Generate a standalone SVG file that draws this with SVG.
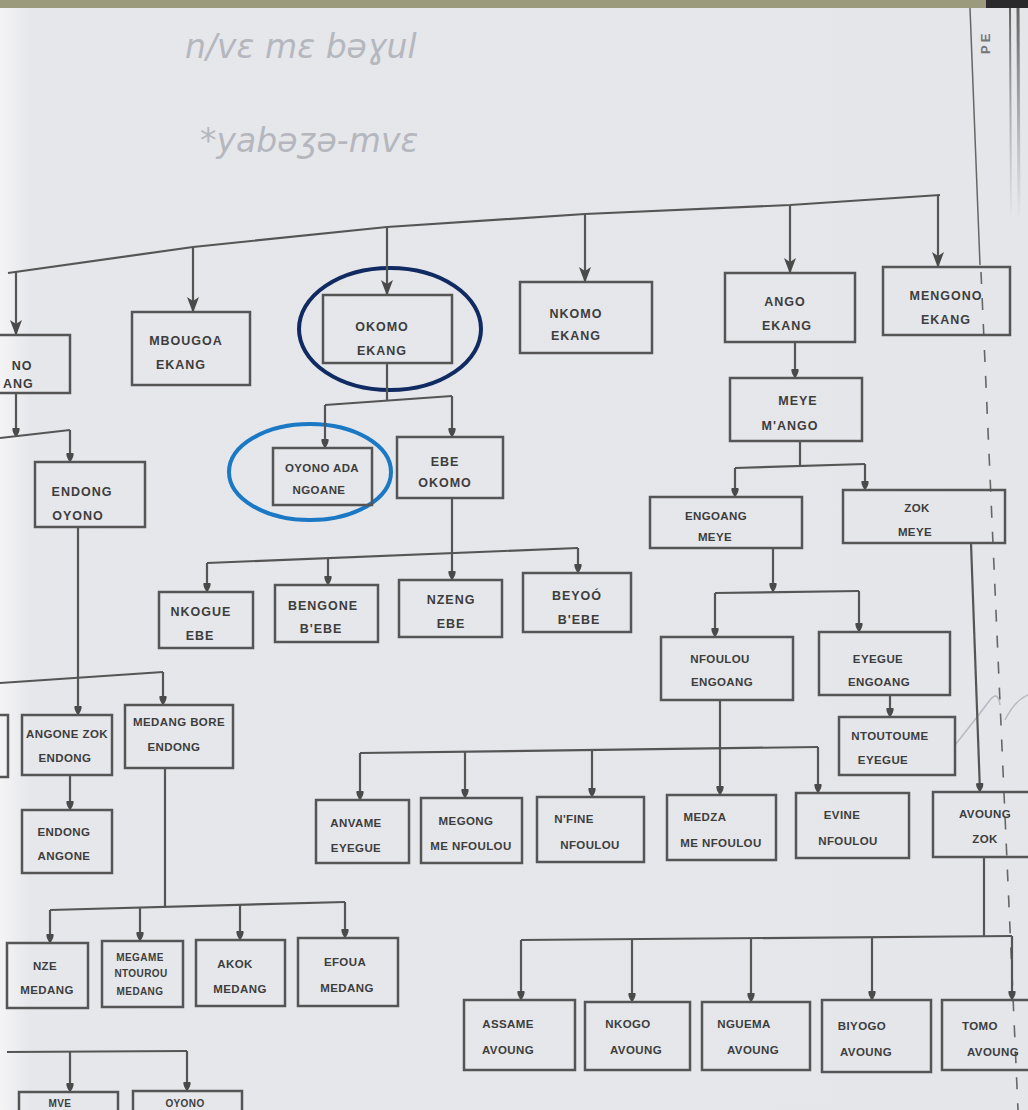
<svg xmlns="http://www.w3.org/2000/svg" width="1028" height="1110" viewBox="0 0 1028 1110">
<defs>
<linearGradient id="paper" x1="0" y1="0" x2="1" y2="0">
<stop offset="0" stop-color="#f4f4f5"/>
<stop offset="0.03" stop-color="#e6e7eb"/>
<stop offset="1" stop-color="#e4e6ea"/>
</linearGradient>
<linearGradient id="spine" x1="0" y1="0" x2="0" y2="1">
<stop offset="0" stop-color="#555" stop-opacity="0.9"/>
<stop offset="1" stop-color="#777" stop-opacity="0"/>
</linearGradient>
<marker id="tri" viewBox="0 0 16 12" refX="16" refY="6" markerWidth="16" markerHeight="12" markerUnits="userSpaceOnUse" orient="auto">
<path d="M0,0 L4,6 L0,12 L16,6 z" fill="#4a4a4a"/>
</marker>
<marker id="dot" viewBox="0 0 8 8" refX="8" refY="4" markerWidth="9" markerHeight="9" markerUnits="userSpaceOnUse" orient="auto">
<path d="M0,1 Q3,0 8,4 Q3,8 0,7 z" fill="#4a4a4a"/>
</marker>
<style>
.box{fill:none;stroke:#555;stroke-width:2.5}
.t{font-family:"Liberation Sans",Arial,sans-serif;font-weight:bold;font-size:12.5px;letter-spacing:1px;fill:#3d3d3d;text-anchor:middle}
.s{font-size:11.5px;letter-spacing:0.4px}
.c{fill:none;stroke:#555;stroke-width:2.2}
.a{marker-end:url(#tri)}
.d{marker-end:url(#dot)}
.hand{font-family:"DejaVu Sans",sans-serif;font-style:italic;font-size:33px;fill:#a2a4ac;opacity:0.7}
</style>
</defs>
<rect width="1028" height="1110" fill="url(#paper)"/>
<rect x="0" y="0" width="986" height="8" fill="#9c9a7c"/>
<rect x="986" y="0" width="42" height="8" fill="#2a2a2c"/>
<line x1="1010" y1="8" x2="1011" y2="220" stroke="url(#spine)" stroke-width="2"/>
<line x1="1018" y1="8" x2="1019" y2="220" stroke="url(#spine)" stroke-width="3"/>
<text x="990" y="54" transform="rotate(-90 990 54)" style="font-family:'Liberation Sans',sans-serif;font-weight:bold;font-size:13px;fill:#777;letter-spacing:3px">PE</text>
<text x="185" y="58" class="hand">n/vɛ mɛ bəɣul</text>
<text x="200" y="152" class="hand">*yabəʒə-mvɛ</text>
<line x1="970" y1="8" x2="980" y2="265" stroke="#666" stroke-width="1.5"/>
<line x1="981" y1="272" x2="1018" y2="1110" stroke="#666" stroke-width="1.6" stroke-dasharray="12 14"/>
<path d="M955,745 Q975,720 990,700 Q998,690 1000,705 M1005,720 Q1015,700 1028,695" fill="none" stroke="#a4a6ad" stroke-width="1.5" opacity="0.7"/>
<ellipse cx="390" cy="329" rx="91" ry="61" fill="none" stroke="#102a62" stroke-width="4"/>
<ellipse cx="310" cy="472" rx="81" ry="48" fill="none" stroke="#1a78c4" stroke-width="4"/>
<g id="connectors">
<path class="c" d="M8,273 L193,247 L387,227 L585,214 L790,205 L940,195"/>
<line class="c a" x1="16" y1="272" x2="16" y2="336"/>
<line class="c a" x1="193" y1="247" x2="193" y2="313"/>
<line class="c a" x1="387" y1="227" x2="387" y2="296"/>
<line class="c a" x1="585" y1="214" x2="585" y2="283"/>
<line class="c a" x1="790" y1="205" x2="790" y2="274"/>
<line class="c a" x1="938" y1="196" x2="938" y2="268"/>
<line class="c" x1="387" y1="363" x2="387" y2="401"/>
<line class="c" x1="325" y1="405" x2="452" y2="396"/>
<line class="c d" x1="325" y1="405" x2="325" y2="448"/>
<line class="c d" x1="452" y1="396" x2="452" y2="437"/>
<line class="c" x1="452" y1="498" x2="452" y2="553"/>
<line class="c" x1="207" y1="563" x2="578" y2="548"/>
<line class="c d" x1="207" y1="563" x2="207" y2="592"/>
<line class="c d" x1="328" y1="558" x2="328" y2="585"/>
<line class="c d" x1="452" y1="553" x2="452" y2="580"/>
<line class="c d" x1="578" y1="548" x2="578" y2="573"/>
<line class="c d" x1="16" y1="393" x2="16" y2="437"/>
<line class="c" x1="0" y1="438" x2="70" y2="430"/>
<line class="c d" x1="70" y1="430" x2="70" y2="462"/>
<line class="c d" x1="78" y1="527" x2="78" y2="715"/>
<line class="c" x1="0" y1="683" x2="163" y2="672"/>
<line class="c d" x1="163" y1="672" x2="163" y2="705"/>
<line class="c d" x1="70" y1="775" x2="70" y2="810"/>
<line class="c" x1="165" y1="768" x2="165" y2="906"/>
<line class="c" x1="50" y1="910" x2="345" y2="902"/>
<line class="c d" x1="50" y1="910" x2="50" y2="943"/>
<line class="c d" x1="140" y1="908" x2="140" y2="941"/>
<line class="c d" x1="240" y1="905" x2="240" y2="940"/>
<line class="c d" x1="345" y1="902" x2="345" y2="938"/>
<line class="c" x1="7" y1="1052" x2="187" y2="1051"/>
<line class="c d" x1="70" y1="1052" x2="70" y2="1092"/>
<line class="c d" x1="187" y1="1051" x2="187" y2="1091"/>
<line class="c d" x1="795" y1="342" x2="795" y2="378"/>
<line class="c" x1="800" y1="441" x2="800" y2="466"/>
<line class="c" x1="735" y1="468" x2="865" y2="464"/>
<line class="c d" x1="735" y1="468" x2="735" y2="497"/>
<line class="c d" x1="865" y1="464" x2="865" y2="490"/>
<line class="c d" x1="773" y1="548" x2="773" y2="592"/>
<line class="c" x1="715" y1="593" x2="859" y2="591"/>
<line class="c d" x1="715" y1="593" x2="715" y2="637"/>
<line class="c d" x1="859" y1="591" x2="859" y2="632"/>
<line class="c d" x1="890" y1="695" x2="890" y2="717"/>
<line class="c d" x1="720" y1="700" x2="720" y2="795"/>
<line class="c" x1="360" y1="753" x2="818" y2="747"/>
<line class="c d" x1="360" y1="753" x2="360" y2="800"/>
<line class="c d" x1="465" y1="752" x2="465" y2="798"/>
<line class="c d" x1="592" y1="750" x2="592" y2="797"/>
<line class="c d" x1="818" y1="747" x2="818" y2="793"/>
<line class="c d" x1="971" y1="543" x2="980" y2="792"/>
<line class="c" x1="984" y1="857" x2="984" y2="937"/>
<line class="c" x1="521" y1="940" x2="1012" y2="936"/>
<line class="c d" x1="521" y1="940" x2="521" y2="1000"/>
<line class="c d" x1="632" y1="939" x2="632" y2="1002"/>
<line class="c d" x1="751" y1="938" x2="751" y2="1002"/>
<line class="c d" x1="872" y1="938" x2="872" y2="1000"/>
<line class="c d" x1="1012" y1="936" x2="1012" y2="1000"/>
</g>
<g id="n-noang"><rect class="box" x="-5" y="335" width="75" height="58"/><text class="t" x="22" y="370">NO</text><text class="t" x="3" y="388" style="text-anchor:start">ANG</text></g>
<g id="n-mbougoa"><rect class="box" x="132" y="312" width="118" height="73"/><text class="t" x="186" y="345">MBOUGOA</text><text class="t" x="181" y="369">EKANG</text></g>
<g id="n-okomo"><rect class="box" x="323" y="295" width="129" height="68"/><text class="t" x="382" y="331">OKOMO</text><text class="t" x="382" y="355">EKANG</text></g>
<g id="n-nkomo"><rect class="box" x="520" y="282" width="132" height="71"/><text class="t" x="576" y="318">NKOMO</text><text class="t" x="576" y="340">EKANG</text></g>
<g id="n-ango"><rect class="box" x="725" y="273" width="130" height="69"/><text class="t" x="785" y="306">ANGO</text><text class="t" x="787" y="330">EKANG</text></g>
<g id="n-mengono"><rect class="box" x="883" y="267" width="127" height="68"/><text class="t" x="946" y="300">MENGONO</text><text class="t" x="946" y="324">EKANG</text></g>
<g id="n-oyono"><rect class="box" x="273" y="448" width="99" height="57"/><text class="t s" x="322" y="472">OYONO ADA</text><text class="t s" x="319" y="494">NGOANE</text></g>
<g id="n-ebe"><rect class="box" x="397" y="437" width="106" height="61"/><text class="t" x="445" y="466">EBE</text><text class="t" x="445" y="487">OKOMO</text></g>
<g id="n-endong-oyono"><rect class="box" x="35" y="462" width="110" height="65"/><text class="t" x="82" y="496">ENDONG</text><text class="t" x="78" y="520">OYONO</text></g>
<g id="n-nkogue"><rect class="box" x="159" y="592" width="94" height="56"/><text class="t" x="201" y="616">NKOGUE</text><text class="t" x="200" y="640">EBE</text></g>
<g id="n-bengone"><rect class="box" x="275" y="585" width="103" height="57"/><text class="t" x="323" y="610">BENGONE</text><text class="t" x="321" y="633">B'EBE</text></g>
<g id="n-nzeng"><rect class="box" x="399" y="580" width="103" height="57"/><text class="t" x="451" y="604">NZENG</text><text class="t" x="451" y="628">EBE</text></g>
<g id="n-beyoo"><rect class="box" x="523" y="573" width="108" height="59"/><text class="t" x="577" y="600">BEYOÓ</text><text class="t" x="579" y="624">B'EBE</text></g>
<g id="n-meye"><rect class="box" x="730" y="378" width="132" height="63"/><text class="t" x="798" y="405">MEYE</text><text class="t" x="790" y="430">M'ANGO</text></g>
<g id="n-engoang-meye"><rect class="box" x="650" y="497" width="152" height="51"/><text class="t s" x="716" y="520">ENGOANG</text><text class="t s" x="715" y="541">MEYE</text></g>
<g id="n-zok-meye"><rect class="box" x="843" y="490" width="162" height="53"/><text class="t s" x="917" y="512">ZOK</text><text class="t s" x="915" y="536">MEYE</text></g>
<g id="n-nfoulou"><rect class="box" x="661" y="637" width="132" height="63"/><text class="t s" x="720" y="663">NFOULOU</text><text class="t s" x="722" y="686">ENGOANG</text></g>
<g id="n-eyegue"><rect class="box" x="819" y="632" width="131" height="63"/><text class="t s" x="878" y="663">EYEGUE</text><text class="t s" x="879" y="686">ENGOANG</text></g>
<g id="n-ntoutoume"><rect class="box" x="839" y="717" width="116" height="58"/><text class="t s" x="890" y="740">NTOUTOUME</text><text class="t s" x="883" y="764">EYEGUE</text></g>
<g id="n-angone"><rect class="box" x="22" y="715" width="90" height="60"/><text class="t s" x="67" y="738">ANGONE ZOK</text><text class="t s" x="65" y="762">ENDONG</text></g>
<g id="n-left-partial"><path class="box" d="M-4,715 L8,715 L8,777 L-4,777"/></g>
<g id="n-medang-bore"><rect class="box" x="125" y="705" width="108" height="63"/><text class="t s" x="179" y="726">MEDANG BORE</text><text class="t s" x="174" y="751">ENDONG</text></g>
<g id="n-endong-angone"><rect class="box" x="22" y="810" width="90" height="63"/><text class="t s" x="64" y="836">ENDONG</text><text class="t s" x="64" y="860">ANGONE</text></g>
<g id="n-anvame"><rect class="box" x="316" y="800" width="93" height="63"/><text class="t s" x="356" y="827">ANVAME</text><text class="t s" x="356" y="852">EYEGUE</text></g>
<g id="n-megong"><rect class="box" x="421" y="798" width="101" height="65"/><text class="t s" x="466" y="825">MEGONG</text><text class="t s" x="471" y="850">ME NFOULOU</text></g>
<g id="n-nfine"><rect class="box" x="537" y="797" width="107" height="65"/><text class="t s" x="574" y="823">N'FINE</text><text class="t s" x="590" y="849">NFOULOU</text></g>
<g id="n-medza"><rect class="box" x="667" y="795" width="109" height="65"/><text class="t s" x="705" y="821">MEDZA</text><text class="t s" x="721" y="847">ME NFOULOU</text></g>
<g id="n-evine"><rect class="box" x="796" y="793" width="113" height="65"/><text class="t s" x="842" y="819">EVINE</text><text class="t s" x="848" y="845">NFOULOU</text></g>
<g id="n-avoung"><rect class="box" x="933" y="792" width="100" height="65"/><text class="t s" x="985" y="818">AVOUNG</text><text class="t s" x="985" y="843">ZOK</text></g>
<g id="n-nze"><rect class="box" x="7" y="943" width="81" height="65"/><text class="t s" x="45" y="970">NZE</text><text class="t s" x="47" y="994">MEDANG</text></g>
<g id="n-megame"><rect class="box" x="102" y="941" width="81" height="66"/><text class="t s" x="140" y="961" style="font-size:10px">MEGAME</text><text class="t s" x="141" y="977" style="font-size:10px">NTOUROU</text><text class="t s" x="140" y="995" style="font-size:10px">MEDANG</text></g>
<g id="n-akok"><rect class="box" x="196" y="940" width="89" height="66"/><text class="t s" x="235" y="968">AKOK</text><text class="t s" x="240" y="993">MEDANG</text></g>
<g id="n-efoua"><rect class="box" x="298" y="938" width="100" height="68"/><text class="t s" x="345" y="966">EFOUA</text><text class="t s" x="347" y="992">MEDANG</text></g>
<g id="n-assame"><rect class="box" x="464" y="1000" width="111" height="70"/><text class="t s" x="508" y="1028">ASSAME</text><text class="t s" x="508" y="1054">AVOUNG</text></g>
<g id="n-nkogo"><rect class="box" x="585" y="1002" width="105" height="68"/><text class="t s" x="628" y="1028">NKOGO</text><text class="t s" x="636" y="1054">AVOUNG</text></g>
<g id="n-nguema"><rect class="box" x="702" y="1002" width="108" height="68"/><text class="t s" x="744" y="1028">NGUEMA</text><text class="t s" x="753" y="1054">AVOUNG</text></g>
<g id="n-biyogo"><rect class="box" x="822" y="1000" width="109" height="72"/><text class="t s" x="862" y="1030">BIYOGO</text><text class="t s" x="866" y="1056">AVOUNG</text></g>
<g id="n-tomo"><rect class="box" x="942" y="1000" width="92" height="70"/><text class="t s" x="980" y="1030">TOMO</text><text class="t s" x="993" y="1056">AVOUNG</text></g>
<g id="n-mve"><rect class="box" x="19" y="1092" width="99" height="30"/><text class="t s" x="60" y="1107" style="font-size:10px">MVE</text></g>
<g id="n-oyono2"><rect class="box" x="133" y="1091" width="109" height="30"/><text class="t s" x="185" y="1107" style="font-size:10px">OYONO</text></g>
</svg>
